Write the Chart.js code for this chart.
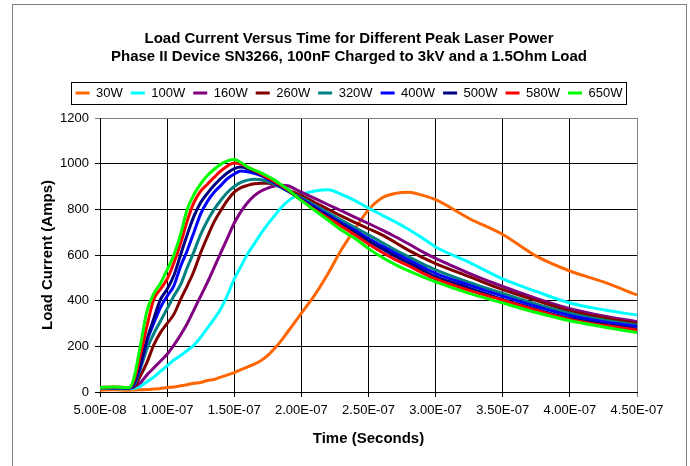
<!DOCTYPE html>
<html><head><meta charset="utf-8">
<script src="https://cdn.jsdelivr.net/npm/chart.js@4"></script>
<style>html,body{margin:0;padding:0;background:#fff;overflow:hidden}canvas{display:block}</style>
</head><body>
<canvas id="c" width="690" height="466"></canvas>
<script>
// ---- data (time in nanoseconds, current in amps) ----
const timeNs = [50,60,70,72,75,80,85,90,95,100,105,110,115,120,125,130,135,140,145,150,155,160,165,170,175,180,185,190,195,200,210,220,230,240,250,260,270,280,290,300,325,350,375,400,425,450];
const xTickValues = [50,100,150,200,250,300,350,400,450];
const xTickLabels = ["5.00E-08","1.00E-07","1.50E-07","2.00E-07","2.50E-07","3.00E-07","3.50E-07","4.00E-07","4.50E-07"];
const yTickLabels = ["0","200","400","600","800","1000","1200"];
const seriesNames = ["30W","100W","160W","260W","320W","400W","500W","580W","650W"];
const chartTitle = ["Load Current Versus Time for Different Peak Laser Power","Phase II Device SN3266, 100nF Charged to 3kV and a 1.5Ohm Load"];
const xAxisTitle = "Time (Seconds)";
const yAxisTitle = "Load Current (Amps)";

const current30W  = [8,10,8,8,9,10,11,13,15, 20,22,27,32,38,42,50,55,65,75,85,98,110,122,138,160,190,225,265,305,345, 425,520,625,715,798,850,870,875,862,842, 760,690,595,530,482,425];
const current100W = [15,15,14,14,15,25,45,65,90, 115,140,160,182,205,240,280,320,365,425,495,550,605,650,695,735,772,808,836,855,865, 880,886,865,838,805,775,745,712,675,635, 568,495,440,390,360,337];
const current160W = [18,18,17,18,22,40,75,105,135, 165,205,250,300,360,420,480,545,610,675,740,790,830,860,880,893,902,906,903,890,875, 848,820,793,765,738,710,680,648,615,585, 520,462,410,365,333,308];
const current260W = [18,20,18,18,20,70,130,205,260, 300,340,405,465,530,610,680,745,795,840,875,895,905,912,914,914,908,898,885,873,860, 830,800,770,742,715,688,655,620,590,562, 505,448,400,355,325,300];
const current320W = [18,18,18,18,25,100,190,255,310, 365,420,470,545,615,690,750,800,840,875,900,918,928,932,930,922,910,895,880,865,850, 818,785,752,720,688,655,622,592,562,535, 480,432,385,345,315,293];
const current400W = [20,18,20,18,30,110,225,300,370, 420,465,550,620,700,780,835,875,905,935,955,968,965,958,948,932,915,898,880,862,845, 810,775,740,708,672,640,608,578,548,520, 468,420,375,335,308,287];
const current500W = [20,20,18,20,35,120,230,320,405, 450,510,600,690,770,830,870,905,935,960,978,985,978,965,952,935,918,900,882,862,842, 805,770,733,698,662,628,595,565,535,505, 455,405,362,322,298,275];
const current580W = [20,22,20,20,45,160,290,405,450, 495,565,650,750,830,880,910,940,968,990,1003,998,985,970,955,938,922,904,885,862,840, 798,762,725,688,648,612,580,552,522,495, 445,402,358,318,292,272];
const current650W = [20,22,20,20,55,200,355,430,475, 535,600,690,800,865,912,948,975,998,1012,1018,1005,985,972,960,945,928,908,888,862,838, 795,752,708,672,628,590,558,530,505,482, 432,390,348,312,285,260];

const seriesValues = [current30W,current100W,current160W,current260W,current320W,current400W,current500W,current580W,current650W];
const seriesColors = ["#FF6600","#00FFFF","#800080","#800000","#008080","#0000FF","#000080","#FF0000","#00FF00"];

Chart.defaults.font.family = '"Liberation Sans", Arial, Helvetica, sans-serif';
Chart.defaults.color = '#000';

const datasets = seriesNames.map((name, i) => ({
  label: name,
  data: timeNs.map((t, k) => ({x: t, y: seriesValues[i][k]})),
  borderColor: seriesColors[i],
  backgroundColor: seriesColors[i],
  borderWidth: 3,
  pointRadius: 0,
  cubicInterpolationMode: 'monotone',
  order: seriesNames.length - i
}));

const framePlugin = {
  id: 'frame',
  beforeDraw(chart) {
    const ctx = chart.ctx;
    ctx.save();
    ctx.fillStyle = '#fff';
    ctx.fillRect(0, 0, chart.width, chart.height);
    ctx.strokeStyle = '#808080';
    ctx.lineWidth = 1;
    ctx.strokeRect(12.5, 4.5, 674, 480);
    ctx.restore();
  },
  afterDraw(chart) {
    const lg = chart.legend;
    if (!lg || !lg.legendHitBoxes || !lg.legendHitBoxes.length) return;
    const hb = lg.legendHitBoxes;
    const first = hb[0], last = hb[hb.length - 1];
    const x0 = Math.round(first.left - 4.5), x1 = Math.round(last.left + last.width + 3.5);
    const cy = first.top + first.height / 2;
    const ctx = chart.ctx;
    ctx.save();
    ctx.strokeStyle = '#000';
    ctx.lineWidth = 1;
    ctx.strokeRect(x0 + 0.5, Math.round(cy - 11) + 0.5, x1 - x0, 22);
    ctx.restore();
  }
};

new Chart(document.getElementById('c'), {
  type: 'line',
  data: { datasets },
  plugins: [framePlugin],
  options: {
    responsive: false,
    animation: false,
    devicePixelRatio: 1,
    events: [],
    layout: { padding: { left: 8, right: 0, top: 0, bottom: 0 } },
    plugins: {
      title: {
        display: true, text: chartTitle, color: '#000',
        font: { size: 15, weight: 'bold', lineHeight: 1.2 },
        padding: { top: 30, bottom: 12.5 }
      },
      subtitle: {
        display: true, text: '', weight: 500, position: 'top',
        font: { size: 1, lineHeight: 1 },
        padding: { top: 0, bottom: 7.5 }
      },
      legend: {
        display: true, position: 'top',
        labels: {
          boxWidth: 14, boxHeight: 3, padding: 8, color: '#000',
          font: { size: 13 },
          generateLabels: (chart) => chart.data.datasets.map((ds, i) => ({
            text: ds.label, fillStyle: ds.borderColor, strokeStyle: ds.borderColor,
            lineWidth: 0, hidden: false, datasetIndex: i, fontColor: '#000'
          }))
        }
      },
      tooltip: { enabled: false }
    },
    scales: {
      x: {
        type: 'linear', min: 50, max: 450,
        afterBuildTicks: (s) => { s.ticks = xTickValues.map(v => ({ value: v })); },
        afterFit: (s) => { s.height = 74; s.paddingRight = 53; },
        ticks: {
          autoSkip: false, maxRotation: 0, padding: 6, color: '#000',
          font: { size: 13 },
          callback: (v) => xTickLabels[xTickValues.indexOf(v)]
        },
        grid: {
          color: (c) => (c.tick && c.tick.value === 450) ? '#808080' : '#000',
          lineWidth: 1, tickLength: 5
        },
        border: { color: '#000', width: 1 },
        title: {
          display: true, text: xAxisTitle, color: '#000',
          font: { size: 15, weight: 'bold', lineHeight: 1.2 },
          padding: { top: 0, bottom: 18 }
        }
      },
      y: {
        type: 'linear', min: 0, max: 1200,
        afterFit: (s) => { s.width = 92; },
        ticks: {
          stepSize: 200, padding: 6, color: '#000', font: { size: 13 },
          callback: (v) => yTickLabels[Math.round(v / 200)]
        },
        grid: {
          color: (c) => (c.tick && c.tick.value === 1200) ? '#808080' : '#000',
          lineWidth: 1, tickLength: 5
        },
        border: { color: '#000', width: 1 },
        title: {
          display: true, text: yAxisTitle, color: '#000',
          font: { size: 15, weight: 'bold', lineHeight: 1.2 },
          padding: { top: 31, bottom: 0 }
        }
      }
    }
  }
});
</script>
</body></html>
